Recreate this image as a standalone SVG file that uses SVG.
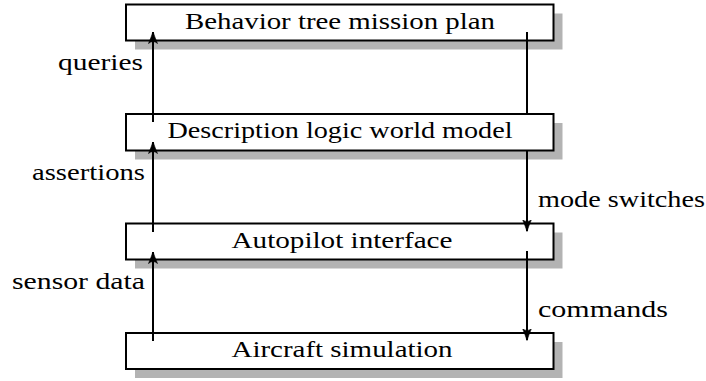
<svg xmlns="http://www.w3.org/2000/svg" width="706" height="381" viewBox="0 0 706 381">
<style>
.shadow{fill:#b3b3b3;stroke:none}
.box{fill:#fff;stroke:#000;stroke-width:2}
text{font-family:'Liberation Serif','DejaVu Serif',serif;font-size:24px;fill:#000}
.c{text-anchor:middle}
.r{text-anchor:end}
.edge{stroke:#000;stroke-width:2;fill:none}
</style>
<defs>
<marker id="ah" viewBox="0 0 12 10" refX="11.5" refY="5" markerWidth="12" markerHeight="10" markerUnits="userSpaceOnUse" orient="auto">
<path d="M0,0.5 Q7,3.5 12,5 Q7,6.5 0,9.5 Q4,5 0,0.5 Z" fill="#000" stroke="#000" stroke-width="0.6" stroke-linejoin="round"/>
</marker>
</defs>
<rect width="706" height="381" fill="#fff"/>
<g id="n1">
<rect class="shadow" x="135" y="13.5" width="427.5" height="36"/>
<rect class="box" x="126" y="4.5" width="427.5" height="36"/>
<text class="c" x="340" y="28.5" textLength="310" lengthAdjust="spacingAndGlyphs">Behavior tree mission plan</text>
</g>
<g id="n2">
<rect class="shadow" x="135" y="123" width="427.5" height="36.5"/>
<rect class="box" x="126" y="114" width="427.5" height="36.5"/>
<text class="c" x="340" y="138" textLength="345" lengthAdjust="spacingAndGlyphs">Description logic world model</text>
</g>
<g id="n3">
<rect class="shadow" x="135" y="232.5" width="427.5" height="36"/>
<rect class="box" x="126" y="223.5" width="427.5" height="36"/>
<text class="c" x="342" y="247.5" textLength="221" lengthAdjust="spacingAndGlyphs">Autopilot interface</text>
</g>
<g id="n4">
<rect class="shadow" x="135" y="342" width="427.5" height="36"/>
<rect class="box" x="126" y="333" width="427.5" height="36"/>
<text class="c" x="342" y="357" textLength="221" lengthAdjust="spacingAndGlyphs">Aircraft simulation</text>
</g>
<g id="connectors">
<line class="edge" x1="153" y1="122" x2="153" y2="32" marker-end="url(#ah)"/>
<line class="edge" x1="153" y1="232" x2="153" y2="142" marker-end="url(#ah)"/>
<line class="edge" x1="153" y1="341" x2="153" y2="252" marker-end="url(#ah)"/>
<line class="edge" x1="527" y1="32" x2="527" y2="113"/>
<line class="edge" x1="527" y1="151" x2="527" y2="231" marker-end="url(#ah)"/>
<line class="edge" x1="527" y1="251" x2="527" y2="340" marker-end="url(#ah)"/>
<text class="r" x="143" y="70" textLength="85" lengthAdjust="spacingAndGlyphs">queries</text>
<text class="r" x="145" y="180" textLength="113" lengthAdjust="spacingAndGlyphs">assertions</text>
<text class="r" x="145" y="289" textLength="133" lengthAdjust="spacingAndGlyphs">sensor data</text>
<text x="538" y="207" textLength="167" lengthAdjust="spacingAndGlyphs">mode switches</text>
<text x="538" y="317" textLength="130" lengthAdjust="spacingAndGlyphs">commands</text>
</g>
</svg>
